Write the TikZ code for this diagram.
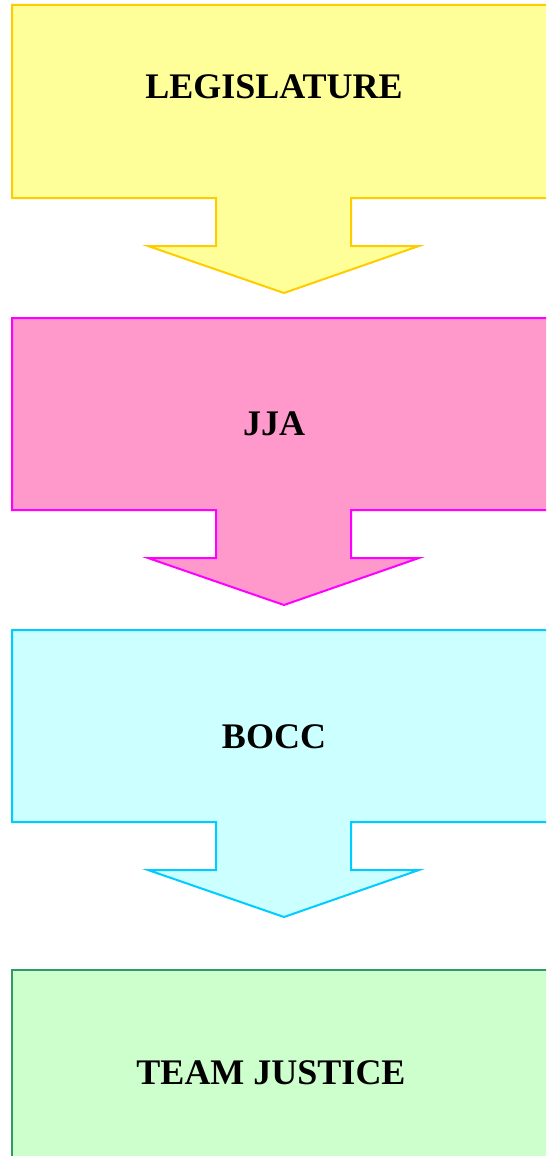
\documentclass[tikz,border=0pt]{standalone}
\usepackage{fontspec}
\setmainfont{Liberation Serif}
\definecolor{yfill}{HTML}{FFFF99}\definecolor{yline}{HTML}{FFCC00}
\definecolor{pfill}{HTML}{FF99CC}\definecolor{pline}{HTML}{FF00FF}
\definecolor{cfill}{HTML}{CCFFFF}\definecolor{cline}{HTML}{00CCFF}
\definecolor{gfill}{HTML}{CCFFCC}\definecolor{gline}{HTML}{339966}
\tikzset{
  callout/.style={line width=2pt, line join=miter},
  lbl/.style={font=\bfseries\fontsize{36}{38}\selectfont, text=black, inner sep=0pt, anchor=base}
}
\newcommand{\arrowbox}[4]{% top, bottom, fill, line
  \path[callout, fill=#3, draw=#4]
    (12,#1) -- (560,#1) -- (560,#2) -- (351,#2) -- (351,#2+48) -- (419,#2+48)
    -- (284,#2+95) -- (148,#2+48) -- (216,#2+48) -- (216,#2) -- (12,#2) -- cycle;
}
\begin{document}
\begin{tikzpicture}[x=1pt,y=-1pt]
\useasboundingbox (0,0) rectangle (546,1156);
\clip (0,0) rectangle (546,1156);
\fill[white] (0,0) rectangle (546,1156);
\arrowbox{5}{198}{yfill}{yline}
\arrowbox{318}{510}{pfill}{pline}
\arrowbox{630}{822}{cfill}{cline}
\path[callout, fill=gfill, draw=gline] (12,1170) -- (12,970) -- (560,970) -- (560,1170);
\node[lbl] (leg) at (274,99) {LEGISLATURE};
\node[lbl] (jja) at (274,435) {JJA};
\node[lbl] (bocc) at (274,748) {BOCC};
\node[lbl] (tj) at (271,1084) {TEAM JUSTICE};
\end{tikzpicture}
\end{document}
